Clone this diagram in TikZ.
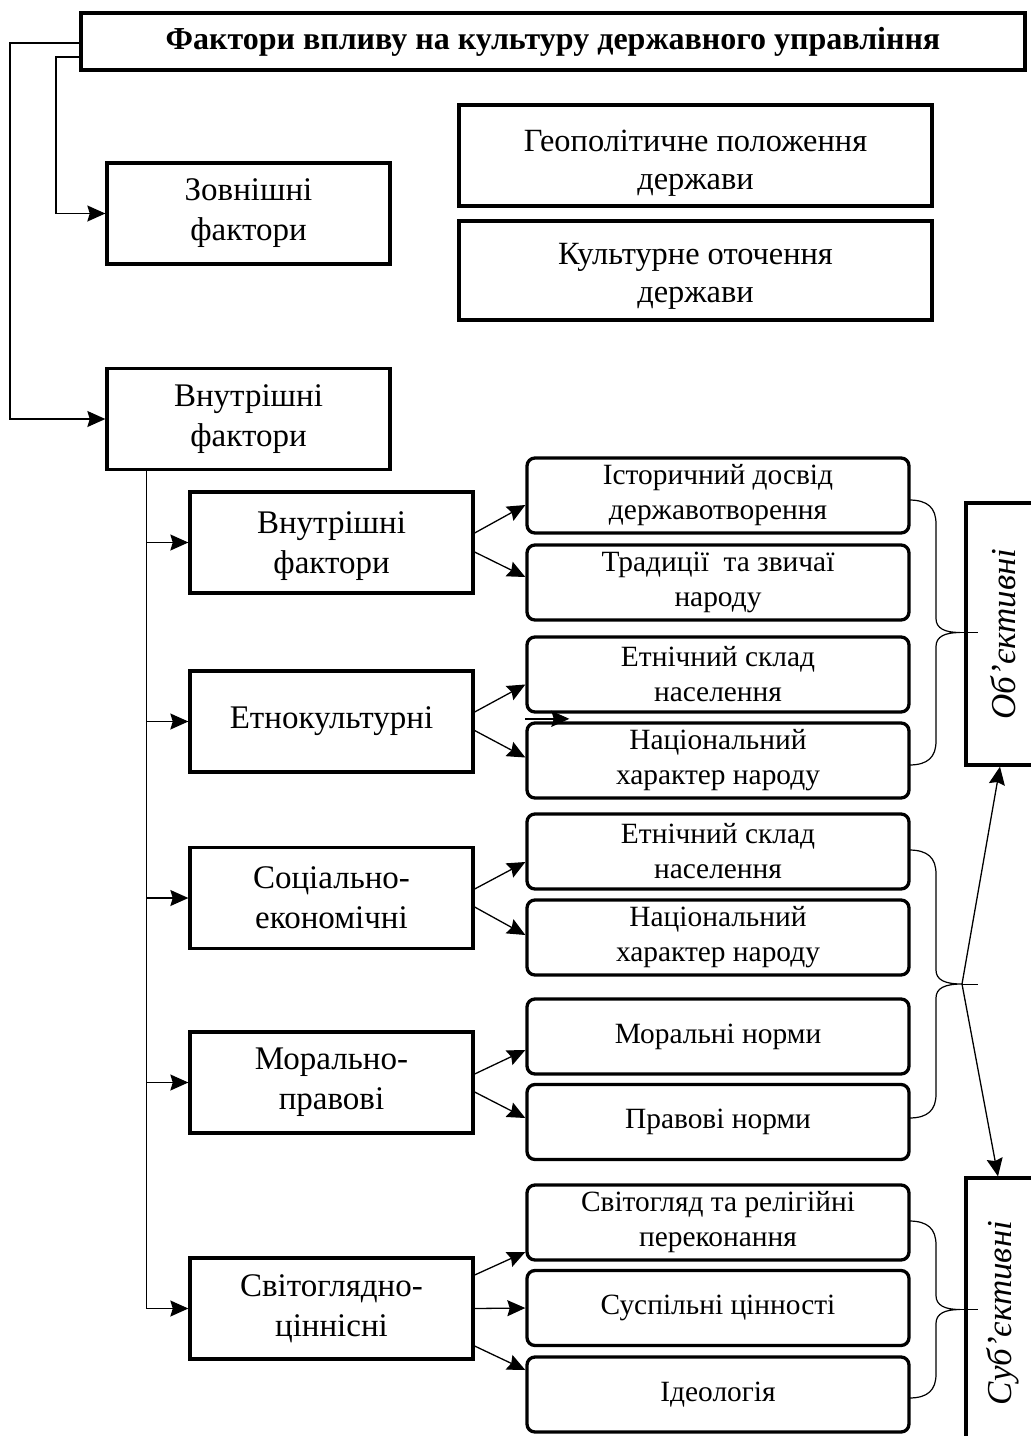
\documentclass[tikz,border=0pt]{standalone}
\usepackage{fontspec}
\setmainfont{Liberation Serif}
\usetikzlibrary{arrows.meta,calc}
\newcommand{\mybrc}[3]{%
 \draw[bracel] (909,#1) .. controls (928,#1) and (936,{#1+8}) .. (936,{#1+24})
   -- (936,{(#1+#2)/2-14}) .. controls (936,{(#1+#2)/2-4}) and (945,{(#1+#2)/2}) .. (#3,{(#1+#2)/2})
   .. controls (945,{(#1+#2)/2}) and (936,{(#1+#2)/2+4}) .. (936,{(#1+#2)/2+14})
   -- (936,{#2-24}) .. controls (936,{#2-8}) and (928,#2) .. (909,#2);
 \draw[line width=0.45pt] (#3,{(#1+#2)/2}) -- (978,{(#1+#2)/2});}
\begin{document}
\begin{tikzpicture}[x=0.5pt,y=-0.5pt,
  arr/.style={-{Stealth[length=9pt,width=8pt,inset=1.2pt]}, line width=0.65pt},
  bracel/.style={line width=0.6pt},
  sqbox/.style={draw, line width=1.65pt, align=center, inner sep=0pt, font=\fontsize{16.5}{20}\selectfont},
  lvlb/.style={sqbox, minimum width=141.5pt, minimum height=50.5pt},
  rbox/.style={draw, line width=1.65pt, rounded corners=4pt, align=center, inner sep=0pt, minimum width=191pt, minimum height=37.5pt, font=\fontsize{14.7}{17.5}\selectfont},
  sidebox/.style={draw, line width=1.65pt, rotate=90, minimum height=37pt, inner sep=0pt, font=\fontsize{17.5}{20}\selectfont\itshape},
]
\useasboundingbox (0,0) rectangle (1031,1436);
\fill[white] (0,0) rectangle (1031,1436);
\clip (0,0) rectangle (1031,1436);

% top level
\node[sqbox, line width=2pt, minimum width=472pt, minimum height=28.5pt, font=\fontsize{16}{20}\selectfont\bfseries] (title) at (553,41.5) {Фактори впливу на культуру державного управління};
\node[lvlb] (zov) at (248.5,213.5) {Зовнішні\\фактори};
\node[lvlb] (vn1) at (248.5,419) {Внутрішні\\фактори};
\node[sqbox, minimum width=236.5pt, minimum height=50.5pt, font=\fontsize{16.2}{19}\selectfont] (geo) at (695.5,155.5) {\rule{0pt}{18pt}Геополітичне положення\\держави};
\node[sqbox, minimum width=236.5pt, minimum height=49.5pt, font=\fontsize{16.2}{19}\selectfont] (kult) at (695.5,270.5) {\rule{0pt}{16pt}Культурне оточення\\держави};

% level 2
\node[lvlb] (vn2) at (331.5,542.5) {\rule{0pt}{15pt}Внутрішні\\фактори};
\node[lvlb] (etno) at (331.5,721.5) {Етнокультурні};
\node[lvlb] (soc) at (331.5,898) {Соціально-\\економічні};
\node[lvlb] (mor) at (331.5,1082.5) {Морально-\\правові};
\node[lvlb] (svit) at (331.5,1308.5) {Світоглядно-\\ціннісні};

% level 3
\node[rbox] (ist) at (718,495.5) {Історичний досвід\\державотворення};
\node[rbox] (trad) at (718,582.5) {Традиції\ \ та звичаї\\народу};
\node[rbox] (etn1) at (718,674.5) {Етнічний склад\\населення};
\node[rbox] (nac1) at (718,760.5) {Національний\\характер народу};
\node[rbox] (etn2) at (718,851.5) {Етнічний склад\\населення};
\node[rbox] (nac2) at (718,937.5) {Національний\\характер народу};
\node[rbox] (morn) at (718,1036.5) {Моральні норми};
\node[rbox] (prav) at (718,1122) {Правові норми};
\node[rbox] (svg) at (718,1222.5) {Світогляд та релігійні\\переконання};
\node[rbox] (susp) at (718,1308) {Суспільні цінності};
\node[rbox] (ideo) at (718,1394.5) {Ідеологія};

% side boxes
\node[sidebox, minimum width=131pt] (obj) at (1003,634) {Об'єктивні};
\node[sidebox, minimum width=135pt] (subj) at (1003,1313) {Суб'єктивні};

% connectors from title
\draw[arr] ($(title.west)+(0,1.5)$) -- ++(-69,0) |- (vn1.west);
\draw[arr] ($(title.west)+(0,15.5)$) -- ++(-23,0) |- (zov.west);

% trunk
\coordinate (trunk) at ($(vn1.south west)+(41,0)$);
\draw[arr] (trunk) |- (svit.west);
\foreach \n in {vn2,etno,soc,mor} \draw[arr] (trunk |- \n.west) -- (\n.west);

% level 2 -> level 3
\draw[arr] ($(vn2.east)+(0,-9.5)$) -- ($(ist.west)+(0,9.5)$);
\draw[arr] ($(vn2.east)+(0,9.5)$) -- ($(trad.west)+(0,-5.5)$);
\draw[arr] ($(etno.east)+(0,-9.5)$) -- ($(etn1.west)+(0,10)$);
\draw[arr] ($(etno.east)+(0,9)$) -- ($(nac1.west)+(0,-3)$);
\draw[arr] ($(soc.east)+(0,-9)$) -- ($(etn2.west)+(0,10.5)$);
\draw[arr] ($(soc.east)+(0,9)$) -- ($(nac2.west)+(0,-2.5)$);
\draw[arr] ($(mor.east)+(0,-8.5)$) -- ($(morn.west)+(0,13.5)$);
\draw[arr] ($(mor.east)+(0,9.5)$) -- ($(prav.west)+(0,-4)$);
\draw[arr] ($(svit.east)+(0,-33.5)$) -- ($(svg.west)+(0,29.5)$);
\draw[arr] (svit.east) -- (susp.west);
\draw[arr] ($(svit.east)+(0,37.5)$) -- ($(ideo.west)+(0,-24.5)$);

% stray arrow
\coordinate (s1) at ($(nac1.north west)+(0,-2.5)$);
\draw[arr] (s1) -- ++(44,0);

% braces
\mybrc{500}{765}{960}
\mybrc{850}{1118}{962}
\mybrc{1221}{1398}{960}
\coordinate (b2tip) at (962,984);

% arrows from brace 2
\draw[arr] (b2tip) -- ($(obj.west)+(-3,0)$);
\draw[arr] (b2tip) -- ($(subj.east)+(-5,0)$);
\end{tikzpicture}
\end{document}
